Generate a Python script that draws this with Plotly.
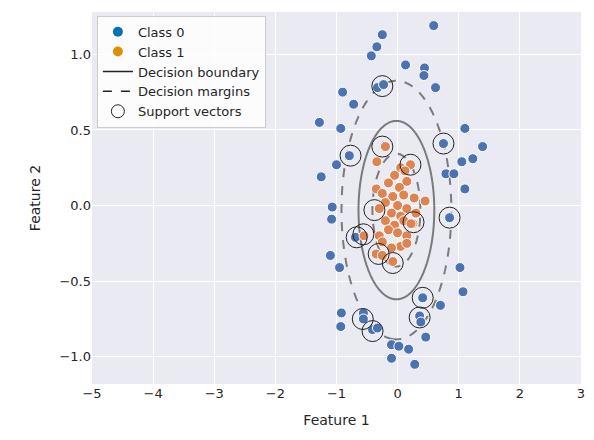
import plotly.graph_objects as go
import numpy as np

# class 0 (outer ring)
x0 = [0.59, -0.25, -0.34, -0.43, 0.13, 0.44, 0.43, -0.33, -0.23, 0.62, -0.9, -0.72, -1.28, -0.93,
      1.1, 1.39, 0.75, -0.79, -1.0, 1.23, 1.05, 0.79, 0.92, -1.25, 1.1, -1.07, -1.08, 0.85, -0.69,
      -1.1, -0.95, 1.02, 1.07, 0.41, 0.7, -0.92, -0.56, -0.56, 0.36, 0.38, -0.93, -0.41, -0.33,
      0.46, -0.1, 0.02, 0.18, -0.1, 0.28]
y0 = [1.19, 1.13, 1.05, 0.99, 0.93, 0.91, 0.86, 0.78, 0.8, 0.78, 0.75, 0.67, 0.55, 0.51,
      0.51, 0.39, 0.41, 0.33, 0.27, 0.31, 0.29, 0.21, 0.21, 0.19, 0.11, -0.01, -0.09, -0.08, -0.21,
      -0.33, -0.41, -0.41, -0.57, -0.61, -0.66, -0.71, -0.71, -0.75, -0.73, -0.77, -0.8, -0.82, -0.81,
      -0.87, -0.92, -0.93, -0.95, -1.01, -1.05]

# class 1 (inner cluster)
x1 = [-0.2, -0.34, 0.21, 0.05, 0.12, -0.05, 0.15, -0.15, -0.35, 0.03, -0.25, 0.1, -0.08, 0.27,
      -0.2, 0.45, 0.0, -0.3, 0.15, -0.1, 0.05, 0.3, -0.2, 0.1, -0.05, 0.25, -0.15, 0.0, 0.15,
      -0.3, -0.55, -0.25, 0.05, 0.15, -0.1, -0.35, -0.25, -0.08, 0.22]
y1 = [0.39, 0.29, 0.27, 0.25, 0.23, 0.2, 0.16, 0.15, 0.11, 0.12, 0.08, 0.07, 0.06, 0.05,
      0.02, 0.03, 0.0, -0.02, -0.02, -0.05, -0.07, -0.05, -0.1, -0.1, -0.13, -0.12, -0.16, -0.18, -0.2,
      -0.2, -0.2, -0.24, -0.27, -0.25, -0.28, -0.32, -0.33, -0.37, -0.12]

# support vectors
sv_x = [-0.25, -0.77, -0.25, 0.21, 0.75, 0.85, -0.38, -0.67, -0.56, 0.26, -0.31, -0.08, 0.41, 0.36, -0.57, -0.41]
sv_y = [0.79, 0.33, 0.39, 0.27, 0.41, -0.08, -0.03, -0.21, -0.19, -0.11, -0.32, -0.38, -0.61, -0.74, -0.75, -0.83]

# decision function approximation (elliptic), contour levels
ax_, ay_, cx, cy = 0.62, 0.59, -0.02, -0.03
levels = [0.4, 1.0, 2.1]
dashes = ["dash", "solid", "dash"]

gx = np.linspace(-1.6, 1.6, 300)
gy = np.linspace(-1.3, 1.3, 300)
GX, GY = np.meshgrid(gx, gy)
G = ((GX - cx) / ax_) ** 2 + ((GY - cy) / ay_) ** 2

grey = "rgba(110,110,110,0.9)"
fig = go.Figure()
for lv, d in zip(levels, dashes):
    fig.add_trace(go.Contour(x=gx, y=gy, z=G, contours=dict(start=lv, end=lv, size=1, coloring="lines"),
                             colorscale=[[0, grey], [1, grey]],
                             line=dict(width=2, dash=d),
                             showscale=False, showlegend=False, hoverinfo="skip"))

fig.add_trace(go.Scatter(x=x0, y=y0, mode="markers", showlegend=False,
                         marker=dict(color="#4C72B0", size=10, line=dict(color="white", width=1))))
fig.add_trace(go.Scatter(x=x1, y=y1, mode="markers", showlegend=False,
                         marker=dict(color="#DD8452", size=10, line=dict(color="white", width=1))))
fig.add_trace(go.Scatter(x=sv_x, y=sv_y, mode="markers", showlegend=False,
                         marker=dict(symbol="circle-open", color="#222", size=21, line=dict(width=1))))

# legend entries
fig.add_trace(go.Scatter(x=[None], y=[None], mode="markers", name="Class 0", marker=dict(color="#0173B2", size=10)))
fig.add_trace(go.Scatter(x=[None], y=[None], mode="markers", name="Class 1", marker=dict(color="#DE8F05", size=10)))
fig.add_trace(go.Scatter(x=[None], y=[None], mode="lines", name="Decision boundary", line=dict(color="#222", width=1.5)))
fig.add_trace(go.Scatter(x=[None], y=[None], mode="lines", name="Decision margins", line=dict(color="#222", width=1.5, dash="dash")))
fig.add_trace(go.Scatter(x=[None], y=[None], mode="markers", name="Support vectors",
                         marker=dict(symbol="circle-open", color="#222", size=13, line=dict(width=1))))

fig.update_layout(
    width=594, height=440, margin=dict(l=84, r=21, t=4, b=64),
    paper_bgcolor="white", plot_bgcolor="#EAEAF2",
    font=dict(family="DejaVu Sans", size=13, color="#262626"),
    legend=dict(x=0.01, y=0.99, xanchor="left", yanchor="top", bgcolor="rgba(255,255,255,0.85)",
                bordercolor="#CCCCCC", borderwidth=1, font=dict(size=13), tracegroupgap=0),
    xaxis=dict(range=[-5, 3], showgrid=True, gridcolor="white", gridwidth=1.2, zeroline=False,
               title=dict(text="Feature 1", font=dict(size=14)), ticks="", showline=False),
    yaxis=dict(range=[-1.18, 1.28], showgrid=True, gridcolor="white", gridwidth=1.2,
               zeroline=False, title=dict(text="Feature 2", font=dict(size=14)), ticks=""),
)
fig.update_yaxes(tickvals=[-1.0, -0.5, 0.0, 0.5, 1.0], ticktext=["\u22121.0", "\u22120.5", "0.0", "0.5", "1.0"])
fig.update_xaxes(tickvals=[-5, -4, -3, -2, -1, 0, 1, 2, 3], ticktext=["\u22125", "\u22124", "\u22123", "\u22122", "\u22121", "0", "1", "2", "3"])

fig.write_html("out.html")
